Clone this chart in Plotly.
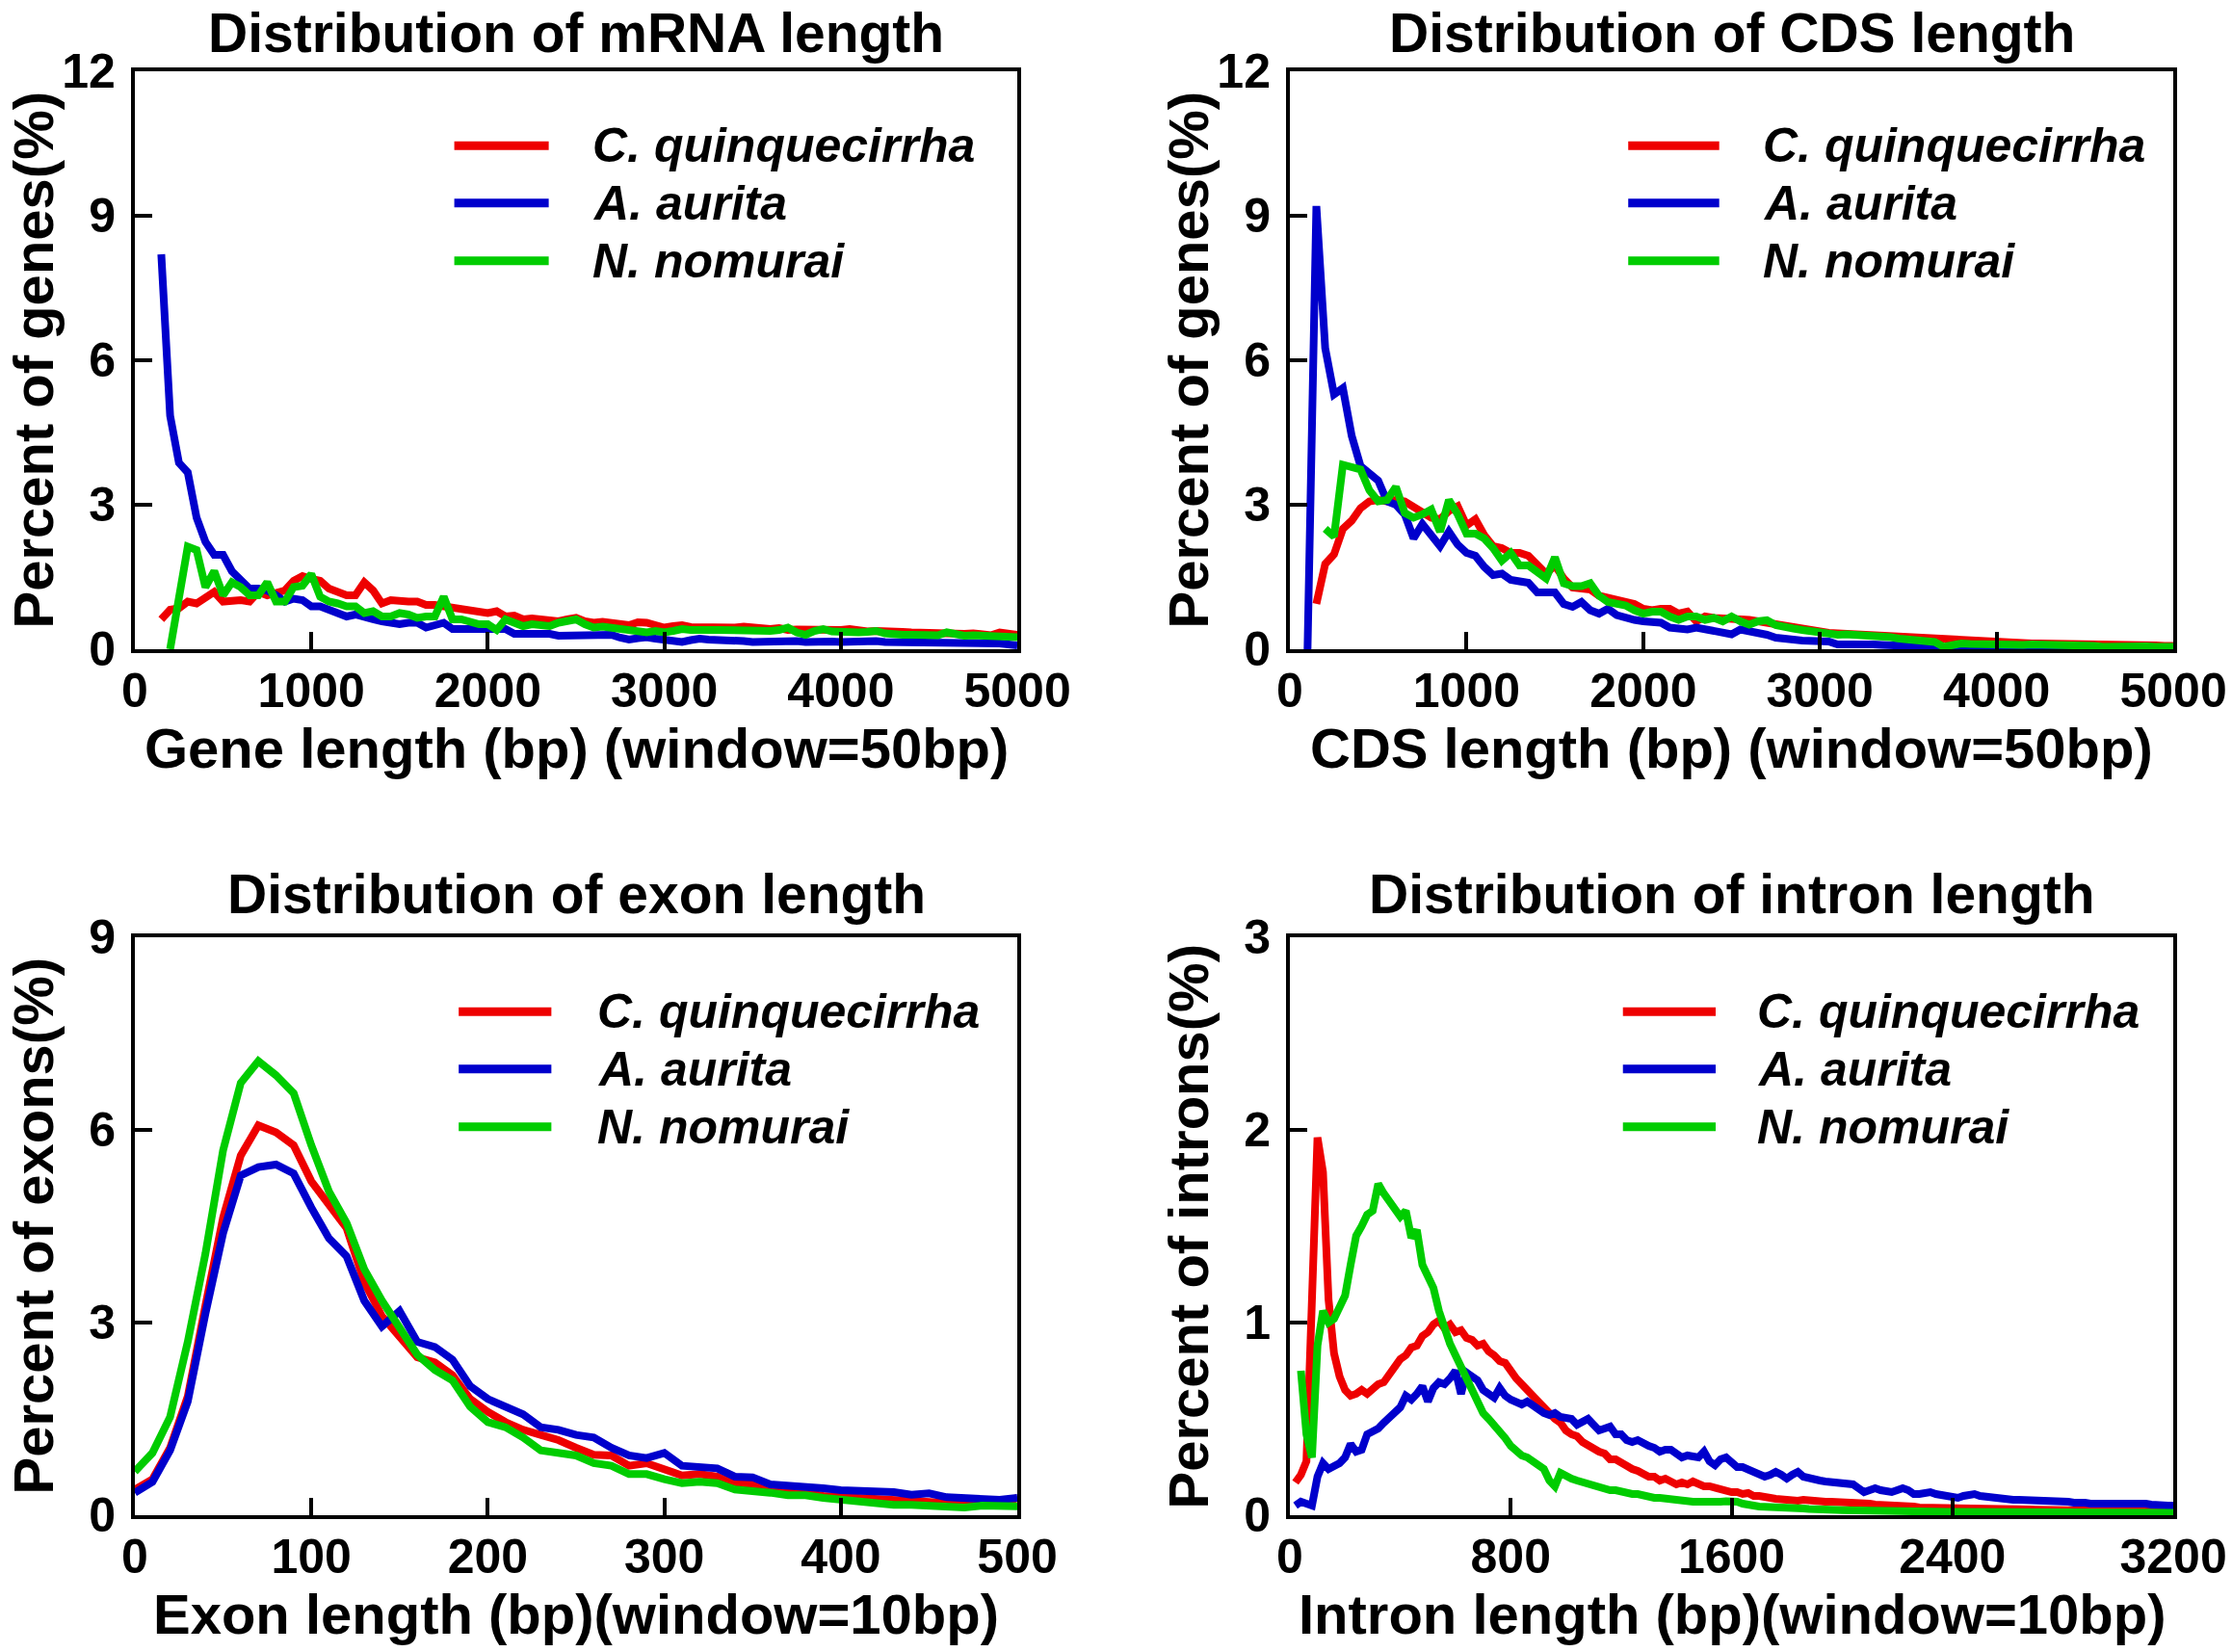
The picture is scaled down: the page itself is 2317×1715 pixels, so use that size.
import plotly.graph_objects as go
from plotly.subplots import make_subplots

FONT = 'Liberation Sans, Arial, sans-serif'
RED = '#ee0000'
BLUE = '#0000cc'
GREEN = '#00cc00'
SPECIES = ['C. quinquecirrha', 'A. aurita', 'N. nomurai']

# ---- mRNA length, window 50 bp ----
mrna_x = list(range(150, 5001, 50))
mrna_cq = [0.62, 0.82, 0.85, 0.99, 0.95, 1.09, 1.19, 0.99, 1.02, 1.02,
           0.99, 1.19, 1.12, 1.15, 1.22, 1.42, 1.52, 1.46, 1.42, 1.26,
           1.19, 1.12, 1.12, 1.39, 1.22, 0.95, 1.02, 0.99, 0.99, 0.99,
           0.92, 0.92, 0.89, 0.89, 0.85, 0.79, 0.79, 0.75, 0.79, 0.68,
           0.70, 0.62, 0.64, 0.62, 0.62, 0.58, 0.62, 0.65, 0.58, 0.55,
           0.57, 0.55, 0.52, 0.50, 0.56, 0.55, 0.50, 0.45, 0.48, 0.50,
           0.46, 0.45, 0.47, 0.45, 0.44, 0.45, 0.47, 0.45, 0.43, 0.42,
           0.44, 0.40, 0.41, 0.40, 0.42, 0.38, 0.40, 0.40, 0.42, 0.38,
           0.37, 0.38, 0.36, 0.35, 0.36, 0.35, 0.34, 0.33, 0.35, 0.33,
           0.31, 0.32, 0.33, 0.30, 0.29, 0.35, 0.31, 0.30]
mrna_aa = [8.20, 4.85, 3.87, 3.67, 2.73, 2.23, 1.96, 1.96, 1.62, 1.42,
           1.26, 1.26, 1.22, 1.12, 0.99, 1.05, 1.02, 0.89, 0.89, 0.82,
           0.75, 0.68, 0.72, 0.65, 0.62, 0.58, 0.55, 0.52, 0.55, 0.55,
           0.45, 0.52, 0.55, 0.42, 0.42, 0.42, 0.42, 0.42, 0.38, 0.42,
           0.32, 0.32, 0.33, 0.33, 0.32, 0.28, 0.28, 0.28, 0.28, 0.30,
           0.28, 0.30, 0.24, 0.20, 0.23, 0.25, 0.22, 0.20, 0.18, 0.15,
           0.19, 0.22, 0.20, 0.20, 0.21, 0.20, 0.17, 0.15, 0.16, 0.17,
           0.19, 0.20, 0.17, 0.15, 0.16, 0.18, 0.16, 0.15, 0.16, 0.15,
           0.16, 0.17, 0.15, 0.15, 0.14, 0.14, 0.15, 0.15, 0.13, 0.12,
           0.14, 0.15, 0.14, 0.13, 0.12, 0.12, 0.10, 0.08]
mrna_nn = [None, 0.00, 1.10, 2.13, 2.06, 1.29, 1.62, 1.12, 1.39, 1.29,
           1.12, 1.12, 1.39, 0.99, 0.99, 1.29, 1.32, 1.56, 1.09, 0.99,
           0.95, 0.89, 0.89, 0.75, 0.79, 0.68, 0.68, 0.75, 0.72, 0.65,
           0.68, 0.68, 1.09, 0.62, 0.62, 0.55, 0.52, 0.52, 0.40, 0.62,
           0.55, 0.48, 0.52, 0.48, 0.48, 0.55, 0.58, 0.62, 0.52, 0.45,
           0.47, 0.45, 0.42, 0.40, 0.36, 0.35, 0.38, 0.35, 0.38, 0.42,
           0.40, 0.38, 0.40, 0.40, 0.39, 0.40, 0.38, 0.38, 0.39, 0.38,
           0.40, 0.45, 0.35, 0.30, 0.38, 0.42, 0.37, 0.35, 0.33, 0.35,
           0.36, 0.38, 0.33, 0.30, 0.30, 0.30, 0.31, 0.30, 0.29, 0.35,
           0.30, 0.28, 0.29, 0.28, 0.27, 0.28, 0.26, 0.25]

# ---- CDS length, window 50 bp ----
cds_x = list(range(100, 5001, 50))
cds_cq = [None, 0.94, 1.77, 1.97, 2.50, 2.67, 2.93, 3.07, 3.10, 3.07,
          3.10, 3.07, 2.97, 2.83, 2.73, 2.70, 2.87, 2.97, 2.57, 2.70,
          2.37, 2.14, 2.10, 2.00, 2.00, 1.94, 1.74, 1.57, 1.74, 1.47,
          1.28, 1.24, 1.24, 1.11, 1.07, 1.04, 1.01, 0.94, 0.84, 0.81,
          0.84, 0.84, 0.74, 0.78, 0.58, 0.68, 0.65, 0.65, 0.61, 0.65,
          0.61, 0.58, 0.55, 0.50, 0.45, 0.42, 0.40, 0.37, 0.35, 0.34,
          0.33, 0.32, 0.30, 0.29, 0.28, 0.27, 0.25, 0.24, 0.22, 0.21,
          0.20, 0.21, 0.20, 0.19, 0.20, 0.18, 0.15, 0.16, 0.15, 0.14,
          0.12, 0.13, 0.12, 0.12, 0.12, 0.11, 0.10, 0.11, 0.10, 0.10,
          0.10, 0.09, 0.08, 0.09, 0.08, 0.08, 0.08, 0.07, 0.07]
cds_aa = [0.00, 9.20, 6.25, 5.29, 5.42, 4.43, 3.80, 3.63, 3.50, 3.07,
          3.00, 2.80, 2.30, 2.60, 2.34, 2.14, 2.44, 2.17, 2.00, 1.94,
          1.71, 1.54, 1.57, 1.44, 1.41, 1.38, 1.18, 1.18, 1.18, 0.94,
          0.88, 0.98, 0.81, 0.74, 0.84, 0.71, 0.65, 0.61, 0.58, 0.55,
          0.55, 0.45, 0.41, 0.41, 0.45, 0.41, 0.41, 0.35, 0.31, 0.41,
          0.38, 0.33, 0.30, 0.24, 0.20, 0.20, 0.18, 0.17, 0.15, 0.16,
          0.10, 0.11, 0.12, 0.11, 0.10, 0.09, 0.08, 0.06, 0.05, 0.05,
          0.05, 0.04, 0.03, 0.03, 0.02, 0.02, 0.01, 0.01, 0.01, 0.01,
          0.01, 0.01, 0.00, 0.01, 0.00, 0.00, 0.00, 0.00, 0.00, 0.00,
          0.00, 0.00, 0.00, 0.00, 0.00, 0.00, 0.00, 0.00, 0.00]
cds_nn = [None, None, 2.50, 2.34, 3.83, 3.76, 3.73, 3.30, 3.07, 3.10,
          3.37, 2.83, 2.73, 2.80, 2.90, 2.44, 3.10, 2.80, 2.40, 2.40,
          2.30, 2.10, 1.84, 2.00, 1.74, 1.74, 1.60, 1.47, 1.91, 1.37,
          1.31, 1.31, 1.37, 1.11, 0.98, 0.94, 0.91, 0.81, 0.74, 0.78,
          0.78, 0.68, 0.61, 0.68, 0.68, 0.61, 0.65, 0.58, 0.68, 0.58,
          0.51, 0.58, 0.60, 0.50, 0.45, 0.43, 0.40, 0.37, 0.35, 0.33,
          0.30, 0.31, 0.30, 0.32, 0.30, 0.28, 0.25, 0.22, 0.20, 0.20,
          0.18, 0.15, 0.05, 0.10, 0.12, 0.11, 0.10, 0.09, 0.08, 0.10,
          0.10, 0.09, 0.10, 0.10, 0.10, 0.09, 0.08, 0.08, 0.08, 0.07,
          0.05, 0.06, 0.05, 0.05, 0.06, 0.06, 0.05, 0.05, 0.05]

# ---- exon length, window 10 bp ----
exon_x = list(range(0, 501, 10))
exon_cq = [0.40, 0.56, 1.05, 1.85, 3.26, 4.63, 5.60, 6.07, 5.96, 5.76,
           5.20, 4.83, 4.47, 3.63, 3.10, 2.78, 2.46, 2.38, 2.18, 1.81,
           1.61, 1.45, 1.33, 1.25, 1.17, 1.05, 0.94, 0.93, 0.77, 0.81,
           0.73, 0.62, 0.64, 0.60, 0.48, 0.48, 0.40, 0.39, 0.35, 0.30,
           0.28, 0.27, 0.25, 0.22, 0.22, 0.20, 0.19, 0.19, 0.18, 0.16,
           0.27]
exon_aa = [0.35, 0.52, 1.01, 1.77, 3.14, 4.39, 5.29, 5.42, 5.46, 5.32,
           4.79, 4.31, 4.03, 3.34, 2.94, 3.18, 2.70, 2.62, 2.42, 2.01,
           1.81, 1.69, 1.57, 1.37, 1.33, 1.25, 1.21, 1.05, 0.93, 0.89,
           0.97, 0.77, 0.75, 0.73, 0.60, 0.59, 0.48, 0.47, 0.44, 0.42,
           0.39, 0.38, 0.36, 0.36, 0.32, 0.34, 0.28, 0.27, 0.28, 0.24,
           0.27]
exon_nn = [0.68, 0.97, 1.53, 2.70, 4.07, 5.68, 6.73, 7.07, 6.85, 6.57,
           5.76, 5.04, 4.55, 3.83, 3.34, 2.90, 2.50, 2.26, 2.10, 1.69,
           1.45, 1.37, 1.21, 1.01, 0.97, 0.93, 0.81, 0.77, 0.64, 0.64,
           0.56, 0.50, 0.52, 0.50, 0.40, 0.38, 0.35, 0.31, 0.31, 0.27,
           0.24, 0.20, 0.20, 0.16, 0.16, 0.15, 0.15, 0.12, 0.15, 0.14,
           0.14]

# ---- intron length, window 10 bp (read every 20 bp) ----
intron_x = list(range(20, 3201, 20))
intron_cq = [0.17, 0.21, 0.28, 1.15, 1.96, 1.78, 1.12, 0.84, 0.72, 0.65,
             0.62, 0.63, 0.65, 0.63, 0.66, 0.68, 0.69, 0.73, 0.76, 0.81,
             0.83, 0.87, 0.88, 0.93, 0.95, 0.99, 1.01, 0.97, 0.99, 0.95,
             0.96, 0.92, 0.91, 0.88, 0.89, 0.85, 0.83, 0.80, 0.79, 0.74,
             0.71, 0.68, 0.65, 0.61, 0.59, 0.55, 0.53, 0.50, 0.48, 0.44,
             0.42, 0.41, 0.38, 0.36, 0.35, 0.33, 0.32, 0.29, 0.29, 0.27,
             0.25, 0.24, 0.23, 0.21, 0.20, 0.20, 0.18, 0.19, 0.17, 0.16,
             0.17, 0.16, 0.175, 0.16, 0.15, 0.15, 0.14, 0.13, 0.125, 0.12,
             0.12, 0.11, 0.115, 0.10, 0.10, 0.09, 0.09, 0.085, 0.08, 0.08,
             0.08, 0.075, 0.08, 0.075, 0.07, 0.075, 0.07, 0.07, 0.07, 0.065,
             0.07, 0.065, 0.06, 0.06, 0.06, 0.055, 0.055, 0.05, 0.05, 0.05,
             0.05, 0.045, 0.045, 0.04, 0.04, 0.04, 0.04, 0.035, 0.035, 0.035,
             0.035, 0.035, 0.034, 0.033, 0.033, 0.034, 0.032, 0.032, 0.031, 0.032,
             0.03, 0.03, 0.031, 0.03, 0.029, 0.028, 0.028, 0.027, 0.027, 0.026,
             0.026, 0.025, 0.025, 0.024, 0.024, 0.023, 0.023, 0.023, 0.022, 0.022,
             0.022, 0.021, 0.021, 0.021, 0.02, 0.02, 0.02, 0.02, 0.02, 0.02]
intron_aa = [0.05, 0.07, 0.06, 0.05, 0.20, 0.27, 0.24, 0.25, 0.27, 0.30,
             0.37, 0.33, 0.34, 0.42, 0.43, 0.45, 0.48, 0.51, 0.54, 0.56,
             0.62, 0.60, 0.63, 0.67, 0.59, 0.66, 0.69, 0.68, 0.71, 0.75,
             0.63, 0.74, 0.72, 0.70, 0.65, 0.63, 0.61, 0.66, 0.62, 0.60,
             0.59, 0.575, 0.59, 0.57, 0.54, 0.53, 0.52, 0.53, 0.51, 0.50,
             0.50, 0.47, 0.49, 0.50, 0.47, 0.44, 0.45, 0.46, 0.42, 0.42,
             0.39, 0.38, 0.39, 0.37, 0.36, 0.35, 0.33, 0.34, 0.34, 0.32,
             0.30, 0.31, 0.31, 0.30, 0.33, 0.28, 0.26, 0.29, 0.30, 0.27,
             0.25, 0.25, 0.24, 0.23, 0.21, 0.20, 0.21, 0.225, 0.21, 0.19,
             0.21, 0.225, 0.20, 0.19, 0.19, 0.18, 0.175, 0.17, 0.165, 0.16,
             0.16, 0.16, 0.14, 0.12, 0.13, 0.14, 0.13, 0.125, 0.12, 0.13,
             0.14, 0.13, 0.11, 0.11, 0.12, 0.12, 0.11, 0.10, 0.10, 0.095,
             0.09, 0.10, 0.11, 0.11, 0.10, 0.095, 0.09, 0.085, 0.08, 0.075,
             0.08, 0.08, 0.08, 0.075, 0.07, 0.07, 0.075, 0.07, 0.07, 0.07,
             0.07, 0.065, 0.07, 0.065, 0.06, 0.06, 0.06, 0.06, 0.065, 0.07,
             0.07, 0.065, 0.07, 0.06, 0.06, 0.055, 0.05, 0.05, 0.05, 0.05]
intron_nn = [None, 0.75, 0.42, 0.30, 0.88, 1.06, 1.00, 1.02, 1.08, 1.14,
             1.30, 1.45, 1.50, 1.56, 1.58, 1.72, 1.67, 1.63, 1.58, 1.55,
             1.58, 1.44, 1.48, 1.30, 1.24, 1.18, 1.06, 0.97, 0.89, 0.83,
             0.77, 0.70, 0.65, 0.60, 0.53, 0.50, 0.47, 0.43, 0.40, 0.36,
             0.33, 0.31, 0.30, 0.28, 0.26, 0.24, 0.18, 0.15, 0.22, 0.20,
             0.19, 0.18, 0.17, 0.16, 0.15, 0.14, 0.14, 0.13, 0.13, 0.12,
             0.12, 0.11, 0.11, 0.10, 0.10, 0.09, 0.09, 0.085, 0.08, 0.085,
             0.08, 0.075, 0.07, 0.07, 0.068, 0.065, 0.067, 0.07, 0.072, 0.075,
             0.07, 0.06, 0.05, 0.05, 0.045, 0.045, 0.04, 0.04, 0.04, 0.038,
             0.037, 0.035, 0.035, 0.033, 0.03, 0.03, 0.03, 0.028, 0.027, 0.026,
             0.025, 0.025, 0.024, 0.023, 0.022, 0.022, 0.021, 0.021, 0.02, 0.02,
             0.02, 0.019, 0.019, 0.018, 0.018, 0.018, 0.017, 0.017, 0.017, 0.017,
             0.017, 0.016, 0.016, 0.016, 0.016, 0.015, 0.015, 0.015, 0.015, 0.015,
             0.015, 0.015, 0.015, 0.014, 0.014, 0.014, 0.014, 0.014, 0.014, 0.014,
             0.013, 0.013, 0.013, 0.013, 0.013, 0.013, 0.013, 0.013, 0.013, 0.013,
             0.013, 0.013, 0.013, 0.013, 0.013, 0.013, 0.013, 0.013, 0.013, 0.013]

panels = [
    dict(x=mrna_x, ys=[mrna_cq, mrna_aa, mrna_nn], title='Distribution of mRNA length',
         xtitle='Gene length (bp) (window=50bp)', ytitle='Percent of genes(%)',
         xrange=[0, 5000], xdtick=1000, yrange=[0, 12], ydtick=3,
         leg_x=(0.362, 0.469, 0.516)),
    dict(x=cds_x, ys=[cds_cq, cds_aa, cds_nn], title='Distribution of CDS length',
         xtitle='CDS length (bp) (window=50bp)', ytitle='Percent of genes(%)',
         xrange=[0, 5000], xdtick=1000, yrange=[0, 12], ydtick=3,
         leg_x=(0.383, 0.486, 0.533)),
    dict(x=exon_x, ys=[exon_cq, exon_aa, exon_nn], title='Distribution of exon length',
         xtitle='Exon length (bp)(window=10bp)', ytitle='Percent of exons(%)',
         xrange=[0, 500], xdtick=100, yrange=[0, 9], ydtick=3,
         leg_x=(0.367, 0.472, 0.522)),
    dict(x=intron_x, ys=[intron_cq, intron_aa, intron_nn], title='Distribution of intron length',
         xtitle='Intron length (bp)(window=10bp)', ytitle='Percent of introns(%)',
         xrange=[0, 3200], xdtick=800, yrange=[0, 3], ydtick=1,
         leg_x=(0.377, 0.482, 0.527)),
]

colors = [RED, BLUE, GREEN]
legend_rows = [0.871, 0.772, 0.672]
x_domains = [[0.0604, 0.4558], [0.5779, 0.9737]]
y_domains = [[0.6070, 0.9569], [0.0828, 0.4327]]
title_y = [1.066, 1.075]  # top row sits against the page edge

fig = make_subplots(rows=2, cols=2)

tickfont = dict(family=FONT, size=50, color='black', weight='bold')
titlefont = dict(family=FONT, size=58, color='black', weight='bold')
axis_common = dict(showline=True, linecolor='black', linewidth=4, mirror=True,
                   ticks='inside', ticklen=18, tickwidth=4, tickcolor='black',
                   showgrid=False, zeroline=False, tickfont=tickfont, automargin=False)

for i, p in enumerate(panels):
    row, col = i // 2 + 1, i % 2 + 1
    n = '' if i == 0 else str(i + 1)
    for name, y, c in zip(SPECIES, p['ys'], colors):
        fig.add_trace(go.Scatter(x=p['x'], y=y, name=name, mode='lines',
                                 line=dict(color=c, width=8), showlegend=False),
                      row=row, col=col)

    fig.update_xaxes(range=p['xrange'], dtick=p['xdtick'], tick0=0,
                     domain=x_domains[col - 1], ticklabelstandoff=-4,
                     row=row, col=col, **axis_common)
    fig.update_yaxes(range=p['yrange'], dtick=p['ydtick'], tick0=0,
                     domain=y_domains[row - 1], ticklabelstandoff=6,
                     row=row, col=col, **axis_common)

    xref, yref = f'x{n} domain', f'y{n} domain'
    # panel title and axis titles
    fig.add_annotation(text=p['title'], xref=xref, yref=yref, x=0.5, y=title_y[row - 1],
                       xanchor='center', yanchor='middle', showarrow=False,
                       font=dict(family=FONT, size=57, color='black', weight='bold'))
    fig.add_annotation(text=p['xtitle'], xref=xref, yref=yref, x=0.5, y=-0.17,
                       xanchor='center', yanchor='middle', showarrow=False, font=titlefont)
    fig.add_annotation(text=p['ytitle'], xref=xref, yref=yref, x=-0.115, y=0.5,
                       xanchor='center', yanchor='middle', textangle=-90,
                       showarrow=False, font=titlefont)

    # hand drawn legend, as in the original figure
    x0, x1, xt = p['leg_x']
    for name, c, ly in zip(SPECIES, colors, legend_rows):
        fig.add_shape(type='line', xref=xref, yref=yref,
                      x0=x0, x1=x1, y0=ly, y1=ly, line=dict(color=c, width=9))
        fig.add_annotation(text=f'<i>{name}</i>', xref=xref, yref=yref,
                           x=xt, y=ly, xanchor='left', yanchor='middle', showarrow=False,
                           font=dict(family=FONT, size=50, color='black', weight='bold'))

fig.update_layout(width=2317, height=1715, margin=dict(l=0, r=0, t=0, b=0),
                  paper_bgcolor='white', plot_bgcolor='white',
                  font=dict(family=FONT, color='black'), showlegend=False)

fig.write_html('out.html', config={'displayModeBar': False},
               post_script="document.body.style.margin='0';document.body.style.overflow='hidden';")
